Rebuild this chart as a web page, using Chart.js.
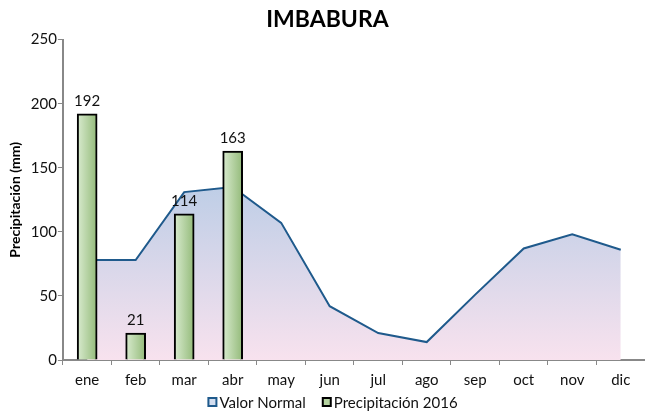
<!DOCTYPE html>
<html><head><meta charset="utf-8">
<script src="https://cdn.jsdelivr.net/npm/chart.js@4/dist/chart.umd.min.js"></script>
<style>html,body{margin:0;padding:0;background:#fff}#wrap{width:645px;height:412px}</style>
</head><body><div id="wrap"><canvas id="c" width="645" height="412"></canvas></div>
<script>
const months = ['ene','feb','mar','abr','may','jun','jul','ago','sep','oct','nov','dic'];
const valorNormal = [78, 78, 131, 135, 107, 42, 21, 14, 51, 87, 98, 86];
const precip2016 = [192, 21, 114, 163, null, null, null, null, null, null, null, null];
const yTicks = [0, 50, 100, 150, 200, 250];
const seriesNames = ['Valor Normal', 'Precipitación 2016'];

const FONT = 'Lato, "Open Sans", sans-serif';

const labelPlugin = {
  id: 'barLabels',
  afterDatasetsDraw(chart) {
    const meta = chart.getDatasetMeta(1);
    const ctx = chart.ctx;
    ctx.save();
    ctx.font = '15px ' + FONT;
    ctx.fillStyle = '#111';
    ctx.textAlign = 'center';
    ctx.textBaseline = 'bottom';
    meta.data.forEach((el, i) => {
      const v = precip2016[i];
      if (v == null) return;
      ctx.fillText(String(v), el.x, el.y - 5);
    });
    ctx.restore();
  }
};

const legendPlugin = {
  id: 'bottomLegend',
  afterDraw(chart) {
    const ctx = chart.ctx;
    const items = [
      { text: seriesNames[0], fill: '#d3def0', stroke: '#1f5a8c' },
      { text: seriesNames[1], fill: '#b5d3a0', stroke: '#000' }
    ];
    ctx.save();
    ctx.font = '15px ' + FONT;
    const box = 8, gapBox = 3, gapItem = 17;
    let total = 0;
    items.forEach((it, i) => { it.w = box + gapBox + ctx.measureText(it.text).width; total += it.w + (i ? gapItem : 0); });
    let x = 333 - total / 2;
    const y = chart.height - 10;
    ctx.textBaseline = 'middle';
    ctx.textAlign = 'left';
    items.forEach((it) => {
      ctx.fillStyle = it.fill;
      ctx.fillRect(x, y - box / 2, box, box);
      ctx.lineWidth = 2;
      ctx.strokeStyle = it.stroke;
      ctx.strokeRect(x, y - box / 2, box, box);
      ctx.fillStyle = '#111';
      ctx.fillText(it.text, x + box + gapBox, y + 1);
      x += it.w + gapItem;
    });
    ctx.restore();
  }
};

new Chart(document.getElementById('c'), {
  data: {
    labels: months,
    datasets: [
      {
        type: 'line',
        label: seriesNames[0],
        data: valorNormal,
        order: 2,
        borderColor: '#1f5a8c',
        borderWidth: 2,
        pointRadius: 0,
        tension: 0,
        fill: 'origin',
        backgroundColor(ctx) {
          const ca = ctx.chart.chartArea;
          if (!ca) return '#d5dcee';
          const g = ctx.chart.ctx.createLinearGradient(0, ctx.chart.scales.y.getPixelForValue(140), 0, ca.bottom);
          g.addColorStop(0, '#bccde6');
          g.addColorStop(1, '#f8e2ee');
          return g;
        }
      },
      {
        type: 'bar',
        label: seriesNames[1],
        data: precip2016,
        order: 1,
        barThickness: 20,
        borderColor: '#000',
        borderWidth: 2,
        borderSkipped: 'bottom',
        backgroundColor(ctx) {
          const ch = ctx.chart;
          if (!ch.chartArea) return '#b5d3a0';
          const x = ch.scales.x.getPixelForValue(ctx.dataIndex);
          const g = ch.ctx.createLinearGradient(x - 10, 0, x + 10, 0);
          g.addColorStop(0, '#d9ebcf');
          g.addColorStop(1, '#93ba79');
          return g;
        }
      }
    ]
  },
  options: {
    responsive: false,
    animation: false,
    layout: { padding: { left: 7, right: -3, top: 0, bottom: 17 } },
    plugins: {
      title: {
        display: true,
        text: 'IMBABURA',
        color: '#000',
        font: { family: FONT, size: 23, weight: 'bold' },
        padding: { top: 6, bottom: 6 }
      },
      legend: { display: false },
      tooltip: { enabled: false }
    },
    scales: {
      x: {
        grid: { display: true, drawOnChartArea: false, drawTicks: true, tickLength: 5, color: '#888', offset: true },
        border: { color: '#888', width: 2 },
        ticks: { color: '#111', font: { family: FONT, size: 15 }, padding: 6 }
      },
      y: {
        min: 0,
        max: 250,
        afterBuildTicks(axis) { axis.ticks = yTicks.map(v => ({ value: v })); },
        grid: { display: true, drawOnChartArea: false, drawTicks: true, tickLength: 5, color: '#888' },
        border: { color: '#888', width: 2 },
        ticks: { color: '#111', font: { family: FONT, size: 15 }, padding: 1 },
        title: { display: true, text: 'Precipitación (mm)', color: '#000', font: { family: FONT, size: 14, weight: 'bold' }, padding: { top: 0, bottom: 6 } }
      }
    }
  },
  plugins: [labelPlugin, legendPlugin]
});
</script>
</body></html>
